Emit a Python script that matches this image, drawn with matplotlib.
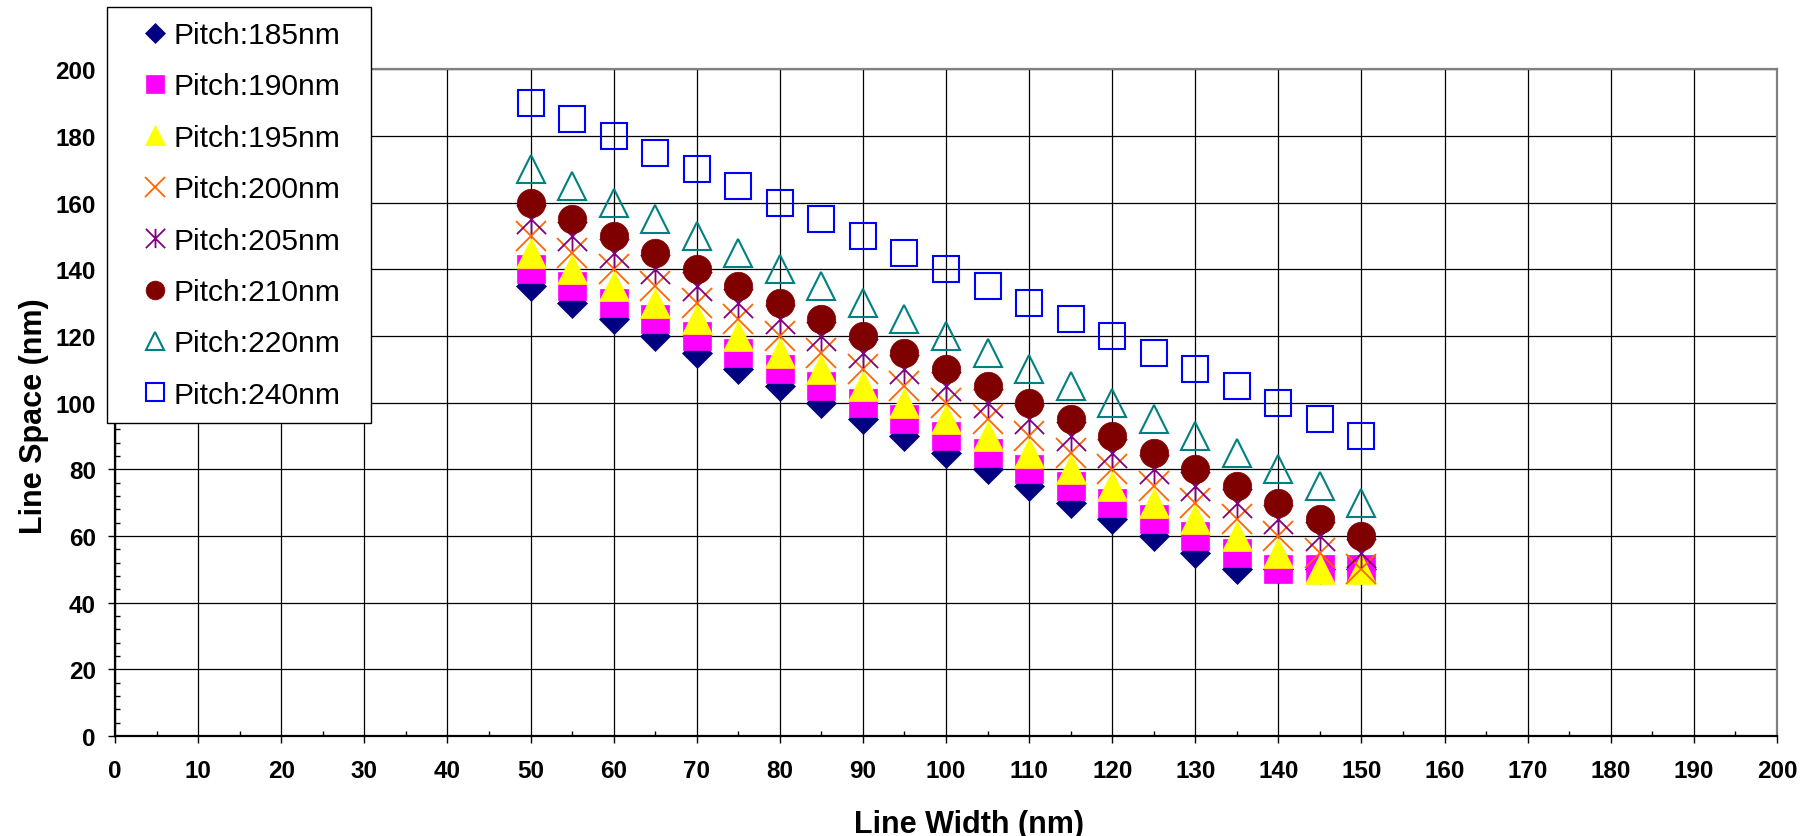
import numpy as np
import matplotlib
matplotlib.use("Agg")
import matplotlib.pyplot as plt
from matplotlib.path import Path
from matplotlib.patches import Rectangle
from matplotlib.ticker import MultipleLocator

plt.rcParams["font.family"] = ["Liberation Sans", "DejaVu Sans"]

line_width = [50, 55, 60, 65, 70, 75, 80, 85, 90, 95, 100,
              105, 110, 115, 120, 125, 130, 135, 140, 145, 150]

space_185 = [135, 130, 125, 120, 115, 110, 105, 100, 95, 90, 85,
             80, 75, 70, 65, 60, 55, 50, 50, 50, 50]
space_190 = [140, 135, 130, 125, 120, 115, 110, 105, 100, 95, 90,
             85, 80, 75, 70, 65, 60, 55, 50, 50, 50]
space_195 = [145, 140, 135, 130, 125, 120, 115, 110, 105, 100, 95,
             90, 85, 80, 75, 70, 65, 60, 55, 50, 50]
space_200 = [150, 145, 140, 135, 130, 125, 120, 115, 110, 105, 100,
             95, 90, 85, 80, 75, 70, 65, 60, 55, 50]
space_205 = [155, 150, 145, 140, 135, 130, 125, 120, 115, 110, 105,
             100, 95, 90, 85, 80, 75, 70, 65, 60, 55]
space_210 = [160, 155, 150, 145, 140, 135, 130, 125, 120, 115, 110,
             105, 100, 95, 90, 85, 80, 75, 70, 65, 60]
space_220 = [170, 165, 160, 155, 150, 145, 140, 135, 130, 125, 120,
             115, 110, 105, 100, 95, 90, 85, 80, 75, 70]
space_240 = [190, 185, 180, 175, 170, 165, 160, 155, 150, 145, 140,
             135, 130, 125, 120, 115, 110, 105, 100, 95, 90]

labels = ["Pitch:185nm", "Pitch:190nm", "Pitch:195nm", "Pitch:200nm",
          "Pitch:205nm", "Pitch:210nm", "Pitch:220nm", "Pitch:240nm"]

# Excel-style "star": an X with a vertical bar through it
star = Path([(-1, -1), (1, 1), (-1, 1), (1, -1), (0, -1), (0, 1)],
            [Path.MOVETO, Path.LINETO, Path.MOVETO, Path.LINETO,
             Path.MOVETO, Path.LINETO])

styles = [
    dict(marker="D", ms=15.5, mfc="#000080", mec="#000080", mew=0.5),
    dict(marker="s", ms=20, mfc="#FF00FF", mec="#FF00FF", mew=0.5),
    dict(marker="^", ms=21, mfc="#FFFF00", mec="#FFFF00", mew=0.5),
    dict(marker="x", ms=21, mec="#FF6600", mew=1.3),
    dict(marker=star, ms=21, mec="#800080", mew=1.3),
    dict(marker="o", ms=20.5, mfc="#800000", mec="#800000", mew=0.5),
    dict(marker="^", ms=20.5, mfc="none", mec="#008080", mew=1.5),
    dict(marker="s", ms=19, mfc="none", mec="#0000FF", mew=1.5),
]
series = [space_185, space_190, space_195, space_200,
          space_205, space_210, space_220, space_240]

fig = plt.figure(figsize=(18.14, 8.37), dpi=100)
ax = fig.add_axes([0.0634, 0.1195, 0.9162, 0.7965])

for vals, lab, st in zip(series, labels, styles):
    ax.plot(line_width, vals, linestyle="none", label=lab, **st)

ax.set_xlim(0, 200)
ax.set_ylim(0, 200)
ax.xaxis.set_major_locator(MultipleLocator(10))
ax.xaxis.set_minor_locator(MultipleLocator(5))
ax.yaxis.set_major_locator(MultipleLocator(20))
ax.yaxis.set_minor_locator(MultipleLocator(4))
ax.grid(True, which="major", color="black", linewidth=0.9)
ax.set_axisbelow(True)

ax.tick_params(which="major", direction="out", length=4.8, width=1,
               labelsize=17.5, pad=12)
ax.tick_params(axis="y", which="major", pad=9)
ax.tick_params(which="minor", direction="in", length=3.5, width=1)
for t in ax.get_xticklabels() + ax.get_yticklabels():
    t.set_fontweight("bold")

for side in ("top", "right"):
    ax.spines[side].set_color("#808080")
    ax.spines[side].set_linewidth(1.6)
for side in ("left", "bottom"):
    ax.spines[side].set_color("black")
    ax.spines[side].set_linewidth(1.6)

ax.set_xlabel("Line Width (nm)", fontsize=22, fontweight="bold")
ax.set_ylabel("Line Space (nm)", fontsize=22, fontweight="bold")
ax.xaxis.set_label_coords(0.514, -0.11)
ax.yaxis.set_label_coords(-0.0395, 0.4815)

# legend box sits over the upper-left corner of the plot
box = Rectangle((107 / 1814, 1 - 424 / 837), 264 / 1814, 416 / 837,
                transform=fig.transFigure, facecolor="white",
                edgecolor="black", linewidth=1, zorder=15, clip_on=False)
ax.add_patch(box)
leg = ax.legend(loc="upper left", bbox_to_anchor=(140 / 1814, 1 - 22 / 837),
                bbox_transform=fig.transFigure, frameon=False,
                fontsize=21.6, markerscale=0.66, handlelength=1.0,
                handletextpad=0.1, labelspacing=0.78, borderpad=0,
                borderaxespad=0)
leg.set_zorder(20)

fig.savefig("out.png", dpi=100)
